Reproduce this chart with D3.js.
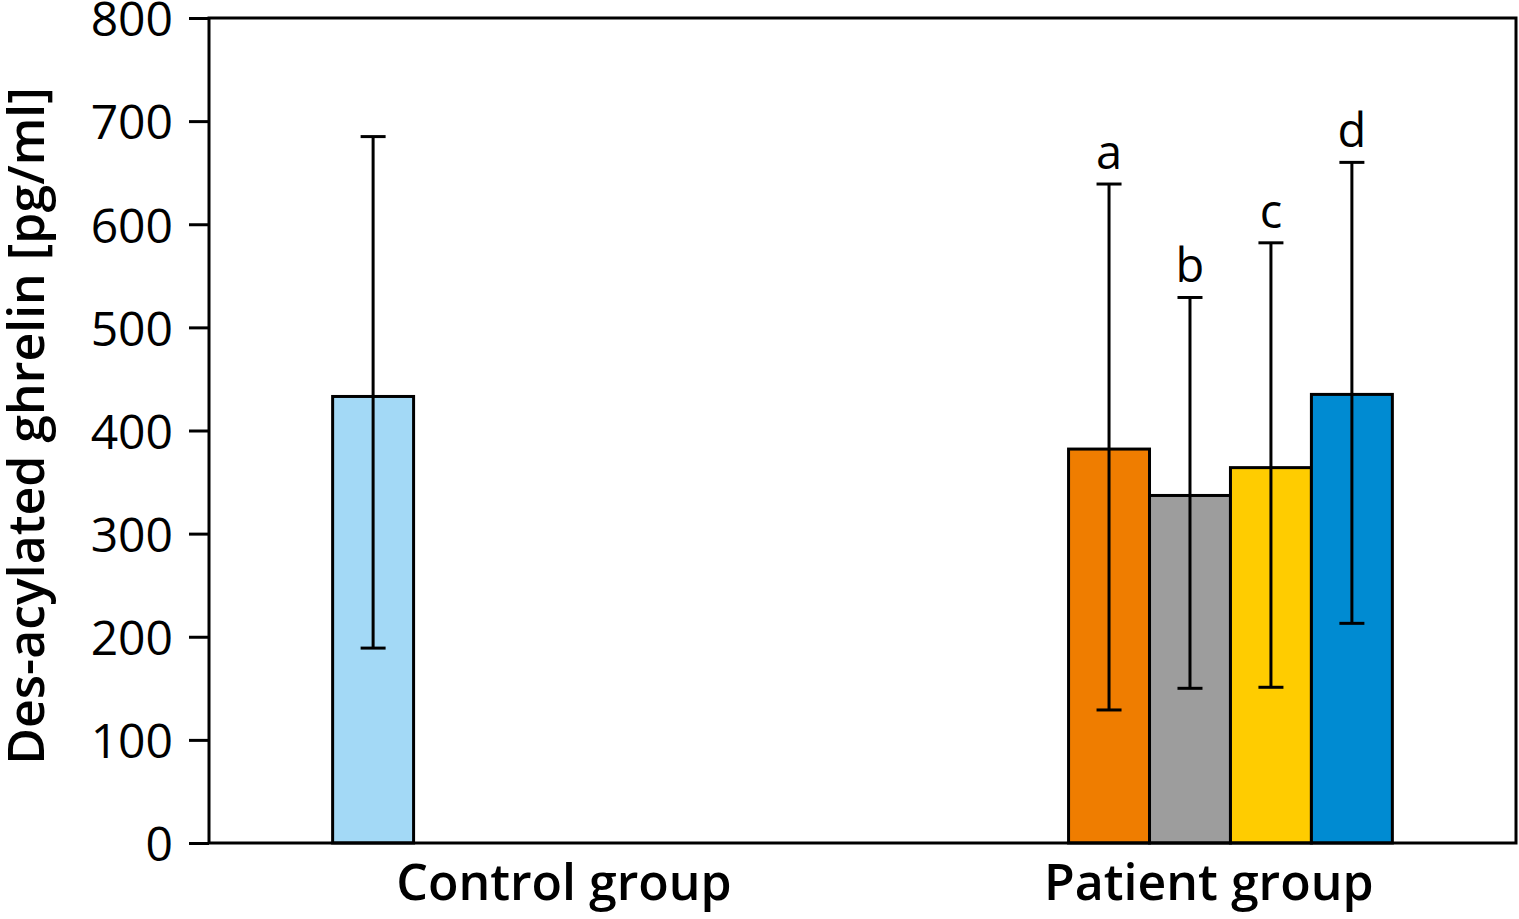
<!DOCTYPE html>
<html>
<head>
<meta charset="utf-8">
<style>
  body { margin: 0; background: #fff; }
  text { font-family: "Open Sans", "Noto Sans", sans-serif; fill: #000; }
</style>
<script src="https://d3js.org/d3.v7.min.js"></script>
</head>
<body>
<svg width="1519" height="919"></svg>
<script>
// data
var groups = ["Control group", "Patient group"];
var series = ["control", "a", "b", "c", "d"];
var seriesGroup = ["Control group", "Patient group", "Patient group", "Patient group", "Patient group"];
var seriesSlot = [0, 0, 1, 2, 3];
var means = [433, 382, 337, 364, 435];
var errLow = [189, 129, 150, 151, 213];
var errHigh = [685, 639, 529, 582, 660];
var letters = ["", "a", "b", "c", "d"];
var colors = ["#a3d9f6", "#ef7d00", "#9d9d9d", "#ffcc00", "#008bd2"];
var yTicks = [0, 100, 200, 300, 400, 500, 600, 700, 800];

var svg = d3.select("svg"),
    margin = {top: 18, right: 3, bottom: 76, left: 209},
    width = +svg.attr("width") - margin.left - margin.right,
    height = +svg.attr("height") - margin.top - margin.bottom,
    g = svg.append("g").attr("transform", "translate(" + margin.left + "," + margin.top + ")");

var y = d3.scaleLinear().domain([0, 800]).range([height, 0]);

// group band, each group holds 4 bar slots
var x0 = d3.scaleBand().domain(groups).range([0, width])
    .paddingInner(0.56).paddingOuter(0.168);
var x1 = d3.scaleBand().domain([0, 1, 2, 3]).range([0, x0.bandwidth()]);

// category labels sit off the band centres in the original
var xLabel = d3.scalePoint().domain(groups).range([width * 0.2716, width * 0.765]);

var rows = series.map(function (s, i) {
  return {key: s, group: seriesGroup[i], slot: seriesSlot[i], mean: means[i],
          lo: errLow[i], hi: errHigh[i], letter: letters[i], color: colors[i]};
});

function bx(d) { return x0(d.group) + x1(d.slot); }

// bars
g.selectAll(".bar")
  .data(rows)
  .enter().append("rect")
  .attr("class", "bar")
  .attr("x", bx)
  .attr("y", function (d) { return y(d.mean); })
  .attr("width", x1.bandwidth())
  .attr("height", function (d) { return height - y(d.mean); })
  .attr("fill", function (d) { return d.color; })
  .attr("stroke", "#000")
  .attr("stroke-width", 3);

// error bars
var eb = g.selectAll(".err").data(rows).enter().append("g").attr("class", "err")
  .attr("stroke", "#000").attr("stroke-width", 3);
eb.append("line")
  .attr("x1", function (d) { return bx(d) + x1.bandwidth() / 2; })
  .attr("x2", function (d) { return bx(d) + x1.bandwidth() / 2; })
  .attr("y1", function (d) { return y(d.lo); })
  .attr("y2", function (d) { return y(d.hi); });
["lo", "hi"].forEach(function (k) {
  eb.append("line")
    .attr("x1", function (d) { return bx(d) + x1.bandwidth() / 2 - 12.5; })
    .attr("x2", function (d) { return bx(d) + x1.bandwidth() / 2 + 12.5; })
    .attr("y1", function (d) { return y(d[k]); })
    .attr("y2", function (d) { return y(d[k]); });
});

// significance letters
g.selectAll(".letter")
  .data(rows.filter(function (d) { return d.letter; }))
  .enter().append("text")
  .attr("class", "letter")
  .attr("x", function (d) { return bx(d) + x1.bandwidth() / 2; })
  .attr("y", function (d) { return y(d.hi) - 15; })
  .attr("text-anchor", "middle")
  .style("font-size", "47px")
  .text(function (d) { return d.letter; });

// y axis
var yAxis = g.append("g")
  .call(d3.axisLeft(y).tickValues(yTicks).tickSize(20).tickPadding(16).tickSizeOuter(0));
yAxis.select(".domain").remove();
yAxis.selectAll("line").attr("stroke", "#000").attr("stroke-width", 3);
yAxis.selectAll("text").style("font-size", "48px").attr("dy", "0.37em");

// frame
g.append("rect")
  .attr("width", width).attr("height", height)
  .attr("fill", "none").attr("stroke", "#000").attr("stroke-width", 3);

// category labels
g.selectAll(".cat")
  .data(groups)
  .enter().append("text")
  .attr("class", "cat")
  .attr("x", function (d) { return xLabel(d); })
  .attr("y", height + 57)
  .attr("text-anchor", "middle")
  .style("font-size", "50px")
  .style("font-weight", "600")
  .text(function (d) { return d; });

// y title
svg.append("text")
  .attr("transform", "translate(44," + (margin.top + 408) + ") rotate(-90)")
  .attr("text-anchor", "middle")
  .style("font-size", "50px")
  .style("font-weight", "600")
  .text("Des-acylated ghrelin [pg/ml]");
</script>
</body>
</html>
